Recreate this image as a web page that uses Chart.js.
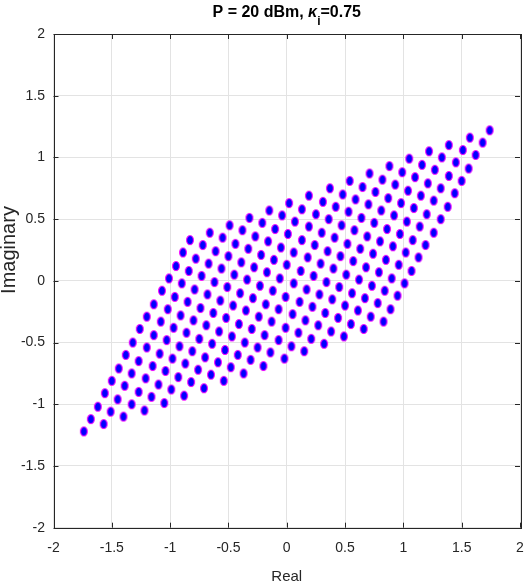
<!DOCTYPE html>
<html>
<head>
<meta charset="utf-8">
<title>P = 20 dBm, κi=0.75</title>
<script src="https://cdn.jsdelivr.net/npm/chart.js@4.4.1/dist/chart.umd.min.js"></script>
<style>
  html, body { margin: 0; padding: 0; background: #fff; }
  #wrap { width: 526px; height: 585px; }
</style>
</head>
<body>
<div id="wrap"><canvas id="chartConst" width="526" height="585"></canvas></div>
<script>
/* ---- constellation points (16 x 16) ---- */
const realPart = [
  -1.74, -1.57, -1.40, -1.22, -1.05, -0.88, -0.71, -0.54, -0.37, -0.20, -0.02, 0.15, 0.32, 0.49, 0.66, 0.83,
  -1.68, -1.51, -1.33, -1.16, -0.99, -0.82, -0.65, -0.48, -0.31, -0.14, 0.04, 0.21, 0.38, 0.55, 0.72, 0.89,
  -1.62, -1.45, -1.27, -1.10, -0.93, -0.76, -0.59, -0.42, -0.25, -0.07, 0.10, 0.27, 0.44, 0.61, 0.78, 0.95,
  -1.56, -1.39, -1.21, -1.04, -0.87, -0.70, -0.53, -0.36, -0.19, -0.01, 0.16, 0.33, 0.50, 0.67, 0.84, 1.01,
  -1.50, -1.33, -1.15, -0.98, -0.81, -0.64, -0.47, -0.30, -0.13, 0.05, 0.22, 0.39, 0.56, 0.73, 0.90, 1.07,
  -1.44, -1.27, -1.09, -0.92, -0.75, -0.58, -0.41, -0.24, -0.07, 0.11, 0.28, 0.45, 0.62, 0.79, 0.96, 1.13,
  -1.38, -1.20, -1.03, -0.86, -0.69, -0.52, -0.35, -0.18, -0.01, 0.17, 0.34, 0.51, 0.68, 0.85, 1.02, 1.19,
  -1.32, -1.14, -0.97, -0.80, -0.63, -0.46, -0.29, -0.12, 0.06, 0.23, 0.40, 0.57, 0.74, 0.91, 1.08, 1.26,
  -1.26, -1.08, -0.91, -0.74, -0.57, -0.40, -0.23, -0.06, 0.12, 0.29, 0.46, 0.63, 0.80, 0.97, 1.14, 1.32,
  -1.20, -1.02, -0.85, -0.68, -0.51, -0.34, -0.17, 0.00, 0.18, 0.35, 0.52, 0.69, 0.86, 1.03, 1.20, 1.38,
  -1.14, -0.96, -0.79, -0.62, -0.45, -0.28, -0.11, 0.06, 0.24, 0.41, 0.58, 0.75, 0.92, 1.09, 1.26, 1.44,
  -1.07, -0.90, -0.73, -0.56, -0.39, -0.22, -0.05, 0.13, 0.30, 0.47, 0.64, 0.81, 0.98, 1.15, 1.32, 1.50,
  -1.01, -0.84, -0.67, -0.50, -0.33, -0.16, 0.01, 0.19, 0.36, 0.53, 0.70, 0.87, 1.04, 1.21, 1.39, 1.56,
  -0.95, -0.78, -0.61, -0.44, -0.27, -0.10, 0.07, 0.25, 0.42, 0.59, 0.76, 0.93, 1.10, 1.27, 1.45, 1.62,
  -0.89, -0.72, -0.55, -0.38, -0.21, -0.04, 0.13, 0.31, 0.48, 0.65, 0.82, 0.99, 1.16, 1.33, 1.51, 1.68,
  -0.83, -0.66, -0.49, -0.32, -0.15, 0.02, 0.19, 0.37, 0.54, 0.71, 0.88, 1.05, 1.22, 1.39, 1.57, 1.74
];

const imagPart = [
  -1.22, -1.16, -1.10, -1.05, -0.99, -0.93, -0.87, -0.81, -0.75, -0.69, -0.63, -0.57, -0.51, -0.45, -0.39, -0.33,
  -1.12, -1.06, -1.00, -0.94, -0.88, -0.82, -0.76, -0.70, -0.64, -0.58, -0.53, -0.47, -0.41, -0.35, -0.29, -0.23,
  -1.02, -0.96, -0.90, -0.84, -0.78, -0.72, -0.66, -0.60, -0.54, -0.48, -0.42, -0.36, -0.30, -0.24, -0.18, -0.12,
  -0.91, -0.85, -0.79, -0.73, -0.67, -0.62, -0.56, -0.50, -0.44, -0.38, -0.32, -0.26, -0.20, -0.14, -0.08, -0.02,
  -0.81, -0.75, -0.69, -0.63, -0.57, -0.51, -0.45, -0.39, -0.33, -0.27, -0.21, -0.15, -0.10, -0.04, 0.02, 0.08,
  -0.71, -0.65, -0.59, -0.53, -0.47, -0.41, -0.35, -0.29, -0.23, -0.17, -0.11, -0.05, 0.01, 0.07, 0.13, 0.19,
  -0.60, -0.54, -0.48, -0.42, -0.36, -0.30, -0.24, -0.19, -0.13, -0.07, -0.01, 0.05, 0.11, 0.17, 0.23, 0.29,
  -0.50, -0.44, -0.38, -0.32, -0.26, -0.20, -0.14, -0.08, -0.02, 0.04, 0.10, 0.16, 0.22, 0.28, 0.33, 0.39,
  -0.39, -0.33, -0.28, -0.22, -0.16, -0.10, -0.04, 0.02, 0.08, 0.14, 0.20, 0.26, 0.32, 0.38, 0.44, 0.50,
  -0.29, -0.23, -0.17, -0.11, -0.05, 0.01, 0.07, 0.13, 0.19, 0.24, 0.30, 0.36, 0.42, 0.48, 0.54, 0.60,
  -0.19, -0.13, -0.07, -0.01, 0.05, 0.11, 0.17, 0.23, 0.29, 0.35, 0.41, 0.47, 0.53, 0.59, 0.65, 0.71,
  -0.08, -0.02, 0.04, 0.10, 0.15, 0.21, 0.27, 0.33, 0.39, 0.45, 0.51, 0.57, 0.63, 0.69, 0.75, 0.81,
  0.02, 0.08, 0.14, 0.20, 0.26, 0.32, 0.38, 0.44, 0.50, 0.56, 0.62, 0.67, 0.73, 0.79, 0.85, 0.91,
  0.12, 0.18, 0.24, 0.30, 0.36, 0.42, 0.48, 0.54, 0.60, 0.66, 0.72, 0.78, 0.84, 0.90, 0.96, 1.02,
  0.23, 0.29, 0.35, 0.41, 0.47, 0.53, 0.58, 0.64, 0.70, 0.76, 0.82, 0.88, 0.94, 1.00, 1.06, 1.12,
  0.33, 0.39, 0.45, 0.51, 0.57, 0.63, 0.69, 0.75, 0.81, 0.87, 0.93, 0.99, 1.05, 1.10, 1.16, 1.22
];

const xTicks = [-2, -1.5, -1, -0.5, 0, 0.5, 1, 1.5, 2];
const yTicks = [-2, -1.5, -1, -0.5, 0, 0.5, 1, 1.5, 2];

const FONT = '"Liberation Sans", Arial, Helvetica, sans-serif';
const AXIS_COLOR = '#262626';

/* the original has tall, narrow lettering - use a narrow face when there is one */
function hasFont(name) {
  const c = document.createElement('canvas').getContext('2d');
  c.font = '20px monospace';
  const a = c.measureText('Imaginary -1.5').width;
  c.font = `20px "${name}", monospace`;
  const b = c.measureText('Imaginary -1.5').width;
  return a !== b;
}
const narrowOk  = hasFont('Liberation Sans Narrow');
const tickFont  = narrowOk ? { family: '"Liberation Sans Narrow", ' + FONT, size: 17 } : { family: FONT, size: 14 };
const labelFont = narrowOk ? { family: '"Liberation Sans Narrow", ' + FONT, size: 18 } : { family: FONT, size: 15 };

/* blue dot with a magenta rim, a bit taller than wide like the original */
function makeMarker() {
  const c = document.createElement('canvas');
  c.width = 10; c.height = 12;
  const g = c.getContext('2d');
  g.beginPath();
  g.ellipse(5, 6, 3.4, 4.5, 0, 0, Math.PI * 2);
  g.fillStyle = '#0000ff';
  g.fill();
  g.lineWidth = 1.1;
  g.strokeStyle = '#ff00ff';
  g.stroke();
  return c;
}

/* title with italic kappa and subscript i, plus the rotated y label */
const textPlugin = {
  id: 'matText',
  afterDraw(chart) {
    const { ctx, chartArea } = chart;
    const parts = [
      { t: 'P = 20 dBm, ', f: 'bold 16px ' + FONT, dy: 0 },
      { t: 'κ', f: 'italic bold 16px ' + FONT, dy: 0 },
      { t: 'i', f: 'bold 12px ' + FONT, dy: 8 },
      { t: '=0.75', f: 'bold 16px ' + FONT, dy: 0 },
    ];
    ctx.save();
    ctx.fillStyle = '#000';
    ctx.textBaseline = 'alphabetic';
    ctx.textAlign = 'left';
    let total = 0;
    parts.forEach(p => { ctx.font = p.f; p.w = ctx.measureText(p.t).width; total += p.w; });
    let x = (chartArea.left + chartArea.right) / 2 - total / 2;
    const base = 17;
    parts.forEach(p => {
      ctx.font = p.f;
      ctx.fillText(p.t, x, base + p.dy);
      x += p.w;
    });

    ctx.translate(9, 250);
    ctx.rotate(-Math.PI / 2);
    ctx.font = '20px ' + FONT;
    ctx.fillStyle = AXIS_COLOR;
    ctx.textAlign = 'center';
    ctx.textBaseline = 'middle';
    ctx.fillText('Imaginary', 0, 0);
    ctx.restore();
  }
};

/* closed box with inward tick marks on all four sides */
const boxPlugin = {
  id: 'axesBox',
  beforeDatasetsDraw(chart) {
    const { ctx, chartArea: a, scales } = chart;
    const len = 5;
    ctx.save();
    ctx.strokeStyle = AXIS_COLOR;
    ctx.lineWidth = 1;
    ctx.beginPath();
    xTicks.forEach(v => {
      const px = Math.round(scales.x.getPixelForValue(v)) + 0.5;
      ctx.moveTo(px, a.bottom); ctx.lineTo(px, a.bottom - len);
      ctx.moveTo(px, a.top);    ctx.lineTo(px, a.top + len);
    });
    yTicks.forEach(v => {
      const py = Math.round(scales.y.getPixelForValue(v)) + 0.5;
      ctx.moveTo(a.left, py);  ctx.lineTo(a.left + len, py);
      ctx.moveTo(a.right, py); ctx.lineTo(a.right - len, py);
    });
    ctx.stroke();
    ctx.strokeRect(Math.round(a.left) + 0.5, Math.round(a.top) + 0.5,
                   Math.round(a.right - a.left), Math.round(a.bottom - a.top));
    ctx.restore();
  }
};

const points = realPart.map((x, k) => ({ x, y: imagPart[k] }));

new Chart(document.getElementById('chartConst'), {
  type: 'scatter',
  data: {
    datasets: [{
      label: 'Received',
      data: points,
      pointStyle: makeMarker(),
      pointRadius: 4,
      pointHoverRadius: 4,
    }],
  },
  options: {
    responsive: false,
    animation: false,
    devicePixelRatio: 1,
    layout: { padding: { top: 34, right: 6, left: 0, bottom: 0 } },
    plugins: {
      legend: { display: false },
      tooltip: { enabled: false },
      title: { display: false },
    },
    scales: {
      x: {
        type: 'linear',
        min: -2, max: 2,
        afterBuildTicks: s => { s.ticks = xTicks.map(v => ({ value: v })); },
        afterFit: s => { s.height = 57.3; s.paddingLeft = 0; s.paddingRight = 0; },
        grid: { color: '#e3e3e3', drawTicks: false },
        border: { display: false },
        ticks: { color: AXIS_COLOR, padding: narrowOk ? 10 : 12, font: tickFont, callback: v => String(v), maxRotation: 0 },
        title: { display: true, text: 'Real', color: AXIS_COLOR, font: labelFont, padding: { top: 0, bottom: -1 } },
      },
      y: {
        type: 'linear',
        min: -2, max: 2,
        afterBuildTicks: s => { s.ticks = yTicks.map(v => ({ value: v })); },
        afterFit: s => { s.width = 53.5; },
        grid: { color: '#e3e3e3', drawTicks: false },
        border: { display: false },
        ticks: { color: AXIS_COLOR, padding: 8.5, font: tickFont, callback: v => String(v) },
        title: { display: false },
      },
    },
  },
  plugins: [boxPlugin, textPlugin],
});
</script>
</body>
</html>
